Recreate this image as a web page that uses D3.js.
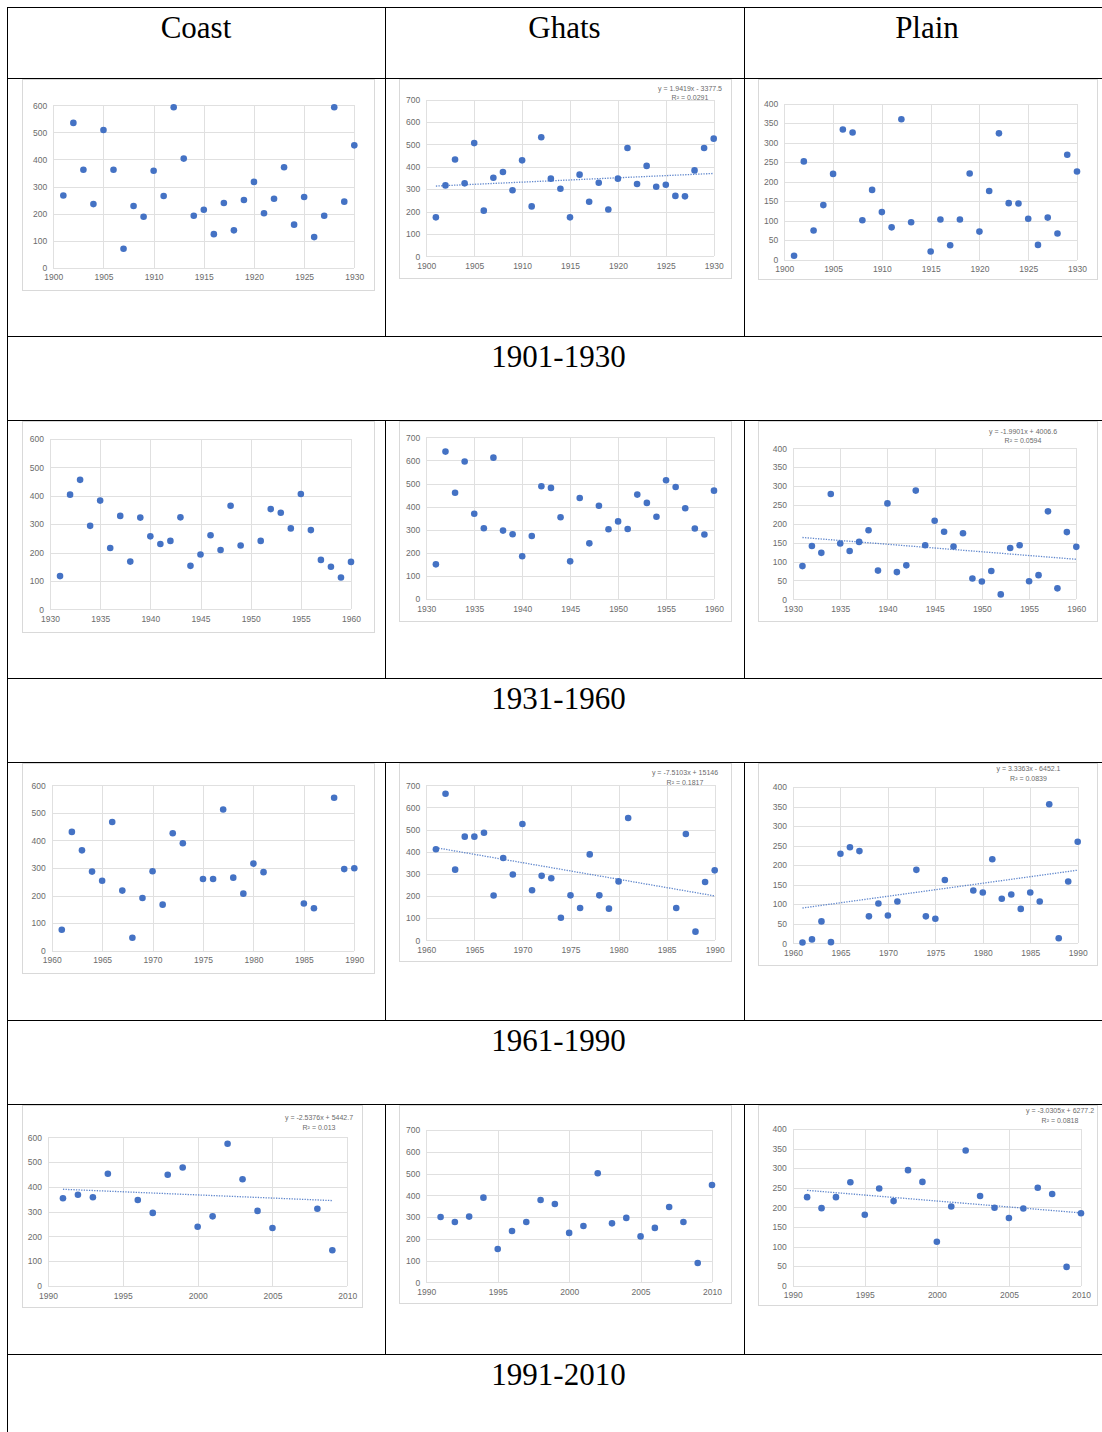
<!DOCTYPE html>
<html><head><meta charset="utf-8">
<script src="https://cdn.jsdelivr.net/npm/d3@7"></script>
<style>body{margin:0;background:#fff}svg{display:block}</style>
</head><body>
<script>
// ---------- DATA ----------
const regions = ["Coast", "Ghats", "Plain"];
const periods = ["1901-1930", "1931-1960", "1961-1990", "1991-2010"];

const years1 = [1901,1902,1903,1904,1905,1906,1907,1908,1909,1910,1911,1912,1913,1914,1915,1916,1917,1918,1919,1920,1921,1922,1923,1924,1925,1926,1927,1928,1929,1930];
const coast1 = [267,535,362,235,509,362,70,228,188,358,265,593,403,192,214,124,239,138,250,317,201,255,371,159,261,113,192,593,244,452];
const ghats1 = [174,317,433,326,506,204,351,377,295,429,223,532,347,302,174,365,244,329,209,347,484,323,404,311,320,270,268,384,484,526];
const plain1 = [10,252,75,140,220,334,326,101,179,122,83,360,96,null,21,103,37,103,221,72,176,324,145,144,105,38,108,67,269,226];

const years2 = [1931,1932,1933,1934,1935,1936,1937,1938,1939,1940,1941,1942,1943,1944,1945,1946,1947,1948,1949,1950,1951,1952,1953,1954,1955,1956,1957,1958,1959,1960];
const coast2 = [117,404,456,294,383,216,329,168,323,257,230,241,324,153,193,261,209,365,225,null,241,353,340,285,406,279,174,150,112,167];
const ghats2 = [150,638,460,595,369,306,612,296,280,185,273,488,481,354,163,437,241,404,302,336,303,452,416,356,514,485,393,305,279,469];
const plain2 = [88,141,123,279,148,128,152,183,76,254,72,90,288,143,208,179,140,175,55,47,75,13,136,143,48,64,233,29,178,139];

const years3 = [1961,1962,1963,1964,1965,1966,1967,1968,1969,1970,1971,1972,1973,1974,1975,1976,1977,1978,1979,1980,1981,1982,1983,1984,1985,1986,1987,1988,1989,1990];
const coast3 = [76,431,364,287,254,467,218,47,191,288,167,426,390,null,260,260,512,265,207,316,285,null,null,null,171,154,null,555,296,299];
const ghats3 = [411,662,319,468,468,486,202,372,297,525,226,291,280,102,203,146,388,203,143,266,552,null,null,null,null,146,480,39,263,316];
const plain3 = [2,10,56,3,229,246,236,69,102,71,107,null,188,69,63,162,null,null,135,130,215,114,125,88,130,107,356,13,158,260];

const years4 = [1991,1992,1993,1994,1995,1996,1997,1998,1999,2000,2001,2002,2003,2004,2005,2006,2007,2008,2009,2010];
const coast4 = [354,368,358,453,null,347,295,449,478,239,281,574,431,303,234,null,null,312,144,null];
const ghats4 = [300,277,302,389,153,236,277,378,360,227,259,501,271,296,211,250,346,277,89,447];
const plain4 = [226,198,226,264,181,248,216,295,265,112,202,345,229,199,173,197,250,234,48,185];

// linear trend lines: [slope, intercept], labels as printed
const trendGhats1 = [1.9419, -3377.5];  const labelGhats1 = ["y = 1.9419x - 3377.5", "R² = 0.0291"];
const trendPlain2 = [-1.9901, 4006.6];  const labelPlain2 = ["y = -1.9901x + 4006.6", "R² = 0.0594"];
const trendGhats3 = [-7.5103, 15146];   const labelGhats3 = ["y = -7.5103x + 15146", "R² = 0.1817"];
const trendPlain3 = [3.3363, -6452.1];  const labelPlain3 = ["y = 3.3363x - 6452.1", "R² = 0.0839"];
const trendCoast4 = [-2.5376, 5442.7];  const labelCoast4 = ["y = -2.5376x + 5442.7", "R² = 0.013"];
const trendPlain4 = [-3.0305, 6277.2];  const labelPlain4 = ["y = -3.0305x + 6277.2", "R² = 0.0818"];

const xDomains = [[1900,1930],[1930,1960],[1960,1990],[1990,2010]];
const yMaxCoast = 600, yMaxGhats = 700, yMaxPlain = 400;
const yStepCoast = 100, yStepGhats = 100, yStepPlain = 50;

// ---------- LAYOUT ----------
const W = 1102, H = 1432;
const svg = d3.select("body").append("svg").attr("width", W).attr("height", H);

const colX = [7, 385, 744, 1110];
const rowLines = [7, 78, 336, 420, 678, 762, 1020, 1104, 1354, 1432];
const BLUE = "#4472C4";

// panel geometry: box [x0,y0,x1,y1], plot [left,right,bottom,top], eq [cx, y1]
const panels = [
  {box:[22,79,374,290], plot:[53.3,354.3,267.7,105.3]},
  {box:[399,79,731,278], plot:[426.3,713.7,256.3,99.7], eq:[690,90.5]},
  {box:[758,79,1097,279], plot:[784.3,1077,259.7,103.7]},
  {box:[22,421,374,632], plot:[50,351,609.3,439]},
  {box:[399,421,731,621], plot:[426.3,714,599,437.3]},
  {box:[758,421,1097,621], plot:[793,1076.3,599.3,448.3], eq:[1023,433.5]},
  {box:[22,763,374,973], plot:[51.7,354.3,950.7,785.3]},
  {box:[399,763,731,961], plot:[426.3,714.7,940.3,785.3], eq:[685,775]},
  {box:[758,763,1097,965], plot:[793,1077.7,943.3,787], eq:[1028.5,771]},
  {box:[22,1105,362,1307], plot:[48,347.3,1286,1137.3], eq:[319,1120]},
  {box:[399,1105,731,1303], plot:[426.3,712,1282.3,1130]},
  {box:[758,1105,1097,1305], plot:[792.7,1081,1285.7,1129], eq:[1060,1113]}
];

const panelData = [
  [years1, coast1, 0, yMaxCoast, yStepCoast, null, null],
  [years1, ghats1, 0, yMaxGhats, yStepGhats, trendGhats1, labelGhats1],
  [years1, plain1, 0, yMaxPlain, yStepPlain, null, null],
  [years2, coast2, 1, yMaxCoast, yStepCoast, null, null],
  [years2, ghats2, 1, yMaxGhats, yStepGhats, null, null],
  [years2, plain2, 1, yMaxPlain, yStepPlain, trendPlain2, labelPlain2],
  [years3, coast3, 2, yMaxCoast, yStepCoast, null, null],
  [years3, ghats3, 2, yMaxGhats, yStepGhats, trendGhats3, labelGhats3],
  [years3, plain3, 2, yMaxPlain, yStepPlain, trendPlain3, labelPlain3],
  [years4, coast4, 3, yMaxCoast, yStepCoast, trendCoast4, labelCoast4],
  [years4, ghats4, 3, yMaxGhats, yStepGhats, null, null],
  [years4, plain4, 3, yMaxPlain, yStepPlain, trendPlain4, labelPlain4]
];

// ---------- TABLE ----------
const tbl = svg.append("g").attr("stroke", "#000").attr("stroke-width", 1).attr("shape-rendering", "crispEdges");
rowLines.slice(0, 9).forEach(y => tbl.append("line").attr("x1", colX[0]).attr("x2", W).attr("y1", y + 0.5).attr("y2", y + 0.5));
tbl.append("line").attr("x1", colX[0] + 0.5).attr("x2", colX[0] + 0.5).attr("y1", 7).attr("y2", H);
[[7,336],[420,678],[762,1020],[1104,1354]].forEach(([a,b]) => {
  [colX[1], colX[2]].forEach(x => tbl.append("line").attr("x1", x + 0.5).attr("x2", x + 0.5).attr("y1", a).attr("y2", b));
});

const serif = "'Liberation Serif', 'Times New Roman', serif";
regions.forEach((r, i) => {
  svg.append("text").attr("x", (colX[i] + colX[i + 1]) / 2).attr("y", 38)
    .attr("text-anchor", "middle").attr("font-family", serif).attr("font-size", 31).text(r);
});
const periodTops = [336, 678, 1020, 1354];
periods.forEach((p, i) => {
  svg.append("text").attr("x", (colX[0] + colX[3]) / 2).attr("y", periodTops[i] + 31)
    .attr("text-anchor", "middle").attr("font-family", serif).attr("font-size", 31).text(p);
});

// ---------- PANELS ----------
const sans = "'Liberation Sans', Arial, sans-serif";
panels.forEach((pn, i) => {
  const [yrs, vals, pi, yMax, yStep, trend, label] = panelData[i];
  const g = svg.append("g");
  const [bx0, by0, bx1, by1] = pn.box;
  g.append("rect").attr("x", bx0 + 0.5).attr("y", by0 + 0.5).attr("width", bx1 - bx0).attr("height", by1 - by0)
    .attr("fill", "#fff").attr("stroke", "#d9d9d9");
  const [pl, pr, pb, pt] = pn.plot;
  const xd = xDomains[pi];
  const x = d3.scaleLinear().domain(xd).range([pl, pr]);
  const y = d3.scaleLinear().domain([0, yMax]).range([pb, pt]);
  const xt = d3.range(xd[0], xd[1] + 1, 5);
  const yt = d3.range(0, yMax + 1, yStep);

  const gx = g.append("g").attr("transform", `translate(0,${pb})`)
    .call(d3.axisBottom(x).tickValues(xt).tickFormat(d3.format("d")).tickSize(-(pb - pt)).tickPadding(5));
  const gy = g.append("g").attr("transform", `translate(${pl},0)`)
    .call(d3.axisLeft(y).tickValues(yt).tickSize(-(pr - pl)).tickPadding(6));
  [gx, gy].forEach(a => {
    a.select(".domain").remove();
    a.selectAll("line").attr("stroke", "#e0e0e0").attr("shape-rendering", "crispEdges");
    a.selectAll("text").attr("fill", "#6b6b6b").attr("font-family", sans).attr("font-size", 8.5);
  });
  gx.selectAll("text").attr("dy", "0.9em");

  if (trend) {
    const pts = yrs.filter((d, k) => vals[k] != null);
    const x0 = d3.min(pts), x1 = d3.max(pts);
    g.append("line")
      .attr("x1", x(x0)).attr("y1", y(trend[0] * x0 + trend[1]))
      .attr("x2", x(x1)).attr("y2", y(trend[0] * x1 + trend[1]))
      .attr("stroke", BLUE).attr("stroke-width", 1.3).attr("stroke-dasharray", "1.3,1.3").attr("opacity", 0.85);
    const t = g.append("text").attr("font-family", sans).attr("font-size", 7).attr("fill", "#6b6b6b").attr("text-anchor", "middle");
    t.append("tspan").attr("x", pn.eq[0]).attr("y", pn.eq[1]).text(label[0]);
    t.append("tspan").attr("x", pn.eq[0]).attr("y", pn.eq[1] + 9.5).text(label[1]);
  }

  g.selectAll("circle").data(yrs.map((d, k) => [d, vals[k]]).filter(d => d[1] != null))
    .enter().append("circle")
    .attr("cx", d => x(d[0])).attr("cy", d => y(d[1])).attr("r", 3.3).attr("fill", BLUE);
});
</script>
</body></html>
